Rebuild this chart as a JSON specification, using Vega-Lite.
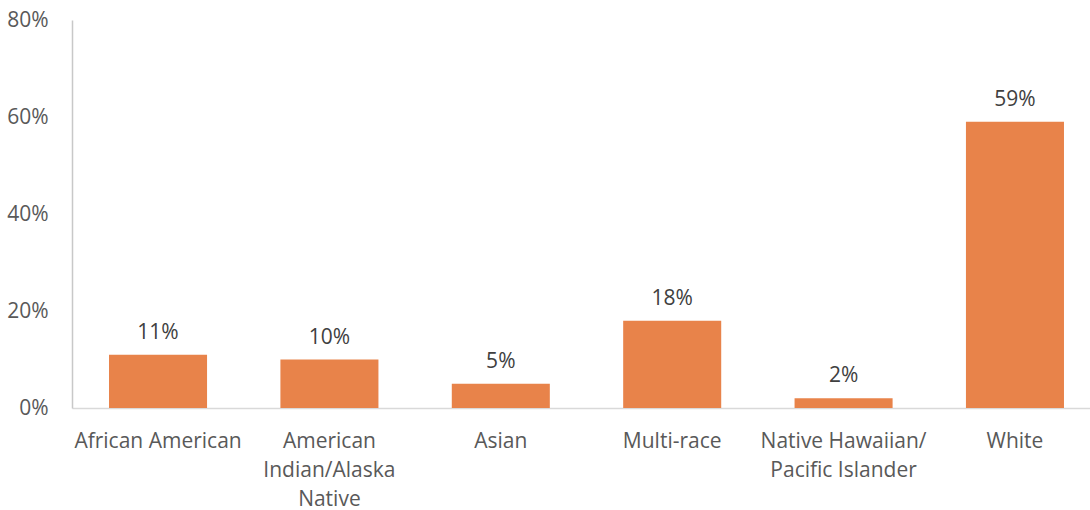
{
  "$schema": "https://vega.github.io/schema/vega-lite/v6.json",
  "autosize": "none",
  "width": 1018,
  "height": 388,
  "padding": {"left": 72, "top": 20, "right": 0, "bottom": 102},
  "background": "white",
  "config": {"view": {"stroke": null}, "font": "Open Sans"},
  "data": {"values": [
    {"group": "African American", "value": 0.11},
    {"group": "American|Indian/Alaska|Native", "value": 0.10},
    {"group": "Asian", "value": 0.05},
    {"group": "Multi-race", "value": 0.18},
    {"group": "Native Hawaiian/|Pacific Islander", "value": 0.02},
    {"group": "White", "value": 0.59}
  ]},
  "encoding": {
    "x": {"field": "group", "type": "nominal", "sort": null,
      "scale": {"paddingInner": 0.428, "paddingOuter": 0.216, "range": [0, 1029]},
      "axis": {"title": null, "labelAngle": 0, "labelExpr": "split(datum.label, '|')",
        "labelFontSize": 21, "labelColor": "#595959", "labelLineHeight": 29,
        "labelPadding": 22, "ticks": false, "domainColor": "#d9d9d9", "domainWidth": 1.5,
        "labelFont": "Open Sans"}},
    "y": {"field": "value", "type": "quantitative",
      "scale": {"domain": [0, 0.8]},
      "axis": {"title": null, "format": ".0%", "values": [0, 0.2, 0.4, 0.6, 0.8],
        "grid": false, "ticks": false, "labelFontSize": 21, "labelColor": "#595959",
        "labelPadding": 24, "domainColor": "#c8c8c8", "domainWidth": 1.5,
        "labelFont": "Open Sans"}}
  },
  "layer": [
    {"mark": {"type": "bar", "color": "#E8834A"}},
    {"mark": {"type": "text", "baseline": "bottom", "dy": -12, "fontSize": 21, "color": "#404040", "font": "Open Sans"},
      "encoding": {"text": {"field": "value", "type": "quantitative", "format": ".0%"}}}
  ]
}
